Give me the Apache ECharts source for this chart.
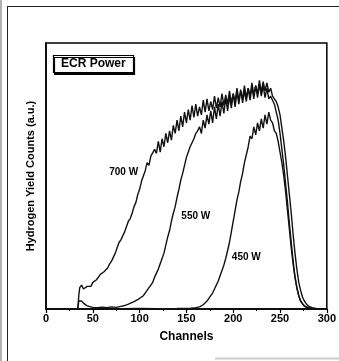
<!DOCTYPE html>
<html>
<head>
<meta charset="utf-8">
<script src="https://cdn.jsdelivr.net/npm/echarts@6/dist/echarts.min.js"></script>
<style>
  html, body { margin: 0; padding: 0; background: #fff; }
  #chart { width: 339px; height: 361px; }
</style>
</head>
<body>
<div id="chart"></div>
<script>
// Channel / yield values (arbitrary units, 0-100)
const ch700 = [30, 34, 35, 36, 38, 40, 42, 44, 46, 48, 50, 52, 54, 56, 58, 60, 62, 64, 66, 68, 70, 72, 74, 76, 78, 80, 82, 84, 86, 88, 90, 92, 94, 96, 98, 100, 102, 104, 106, 108, 110, 112, 114, 116, 118, 120, 122, 124, 126, 128, 130, 132, 134, 136, 138, 140, 142, 144, 146, 148, 150, 152, 154, 156, 158, 160, 162, 164, 166, 168, 170, 172, 174, 176, 178, 180, 182, 184, 186, 188, 190, 192, 194, 196, 198, 200, 202, 204, 206, 208, 210, 212, 214, 216, 218, 220, 222, 224, 226, 228, 230, 232, 234, 236, 238, 240, 242, 244, 246, 248, 250, 252, 254, 256, 258, 260, 262, 264, 266, 268, 270, 272, 274, 276, 278, 280, 284, 290, 296];
const y700 = [0, 0, 5, 8, 9, 7.5, 8, 8.5, 9, 8.5, 10, 10.5, 11, 12, 13, 13.5, 14, 14.5, 15.5, 17, 18, 19.5, 21, 23, 25, 26, 27.5, 29, 31, 33, 34, 36, 38.5, 40, 43, 45, 48, 47.5, 52, 55, 54, 57.5, 57, 60, 58.5,
  63, 59, 64, 61, 66, 62.5, 67, 63.5, 69, 66, 71, 67, 72.5, 68.5, 74, 70, 75, 71, 76.5, 72, 77, 72.5, 76, 73, 78.5, 74, 79, 74.5, 78, 75, 80, 75.5, 79.5, 76, 81, 76.5, 80.5, 77, 82, 77.5, 81, 78, 83, 78.5, 82, 79, 84, 79.5, 83, 80, 85, 80.5, 84, 81, 86, 81.5, 85.5, 82, 85, 81.5, 83,
  80, 79, 78, 76, 73, 68, 63, 57, 50, 43, 36, 28, 21, 15, 10, 7, 4.5, 3, 2, 1.2, 0.5, 0.1, 0];

const ch550 = [30, 34, 35, 36, 38, 40, 42, 44, 46, 50, 55, 60, 65, 70, 75, 80, 84, 88, 90, 94, 98, 100, 104, 106, 108, 110, 112, 114, 116, 118, 120, 122, 124, 126, 128, 130, 132, 134, 136, 138, 140, 142, 144, 146, 148, 150, 152, 154, 156, 158, 160, 162, 164, 166, 168, 170, 172, 174, 176, 178, 180, 182, 184, 186, 188, 190, 192, 194, 196, 198, 200, 202, 204, 206, 208, 210, 212, 214, 216, 218, 220, 222, 224, 226, 228, 230, 232, 234, 236, 238, 240, 242, 244, 246, 248, 250, 252, 254, 256, 258, 260, 262, 264, 266, 268, 270, 272, 274, 276, 280, 286, 292];
const y550 = [0, 0, 3, 3.5, 3, 2.2, 1.6, 1.2, 0.9, 0.6, 0.5, 0.7, 0.5, 0.8, 0.6, 1, 1.3, 1.8, 2.2, 2.8, 3.5, 4, 5, 5.5, 7, 8, 9, 10, 12, 13.5, 15, 17, 19, 21, 24, 27, 29.5, 33, 36, 38.5, 42, 45, 48.5, 51, 54, 57, 59, 61, 62.5, 64, 66, 67, 68.5,
  66, 71, 68, 73, 69.5, 74.5, 70, 76, 71.5, 77, 72.5, 78, 73.5, 79.5, 74.5, 80, 75.5, 81, 76, 81.5, 77, 82.5, 77.5, 82, 78, 83, 78.5, 83.5, 79, 84, 79.5, 84.5, 80, 84, 79.5, 83, 79, 80,
  78.5, 77, 74, 71, 66, 60, 54, 47, 40, 32, 25, 18, 12, 8, 5, 3, 2, 1.2, 0.5, 0.1, 0];

const ch450 = [30, 50, 60, 80, 100, 120, 140, 155, 160, 164, 166, 168, 170, 172, 174, 176, 178, 180, 182, 184, 186, 188, 190, 192, 194, 196, 198, 200, 202, 204, 206, 208, 210, 212, 214, 216, 218, 220, 222, 224, 226, 228, 230, 232, 234, 236, 238, 240, 242, 244, 246, 248, 250, 252, 254, 256, 258, 260, 262, 264, 266, 268, 270, 272, 274, 276, 280, 286, 292];
const y450 = [0, 0, 0.2, 0.1, 0.2, 0.1, 0.2, 0.3, 0.5, 0.8, 1.2, 1.6, 2.2, 3, 4, 5, 6, 7.5, 9, 10.5, 12.5, 14.5, 16.5, 19, 22, 25, 29, 33, 37, 41, 44, 48, 51, 55, 58,
  61, 65, 64, 68.5, 65.5, 70, 67, 71.5, 68, 73, 69.5, 74, 71, 70,
  67, 66, 63, 59, 55, 50, 44, 37, 30, 23, 17, 12, 8, 5, 3, 2, 1, 0.4, 0.1, 0];

const xTicks = [0, 50, 100, 150, 200, 250, 300];

// curve labels: [text, channel, yield]
const curveLabels = [
  ['700 W', 83, 51.5],
  ['550 W', 160, 35],
  ['450 W', 214, 19.5]
];

const font = '"Liberation Sans", Arial, sans-serif';

function pairs(xs, ys) {
  return xs.map((x, i) => [x, ys[i]]);
}

function lineSeries(name, xs, ys, withLabels) {
  const s = {
    name: name,
    type: 'line',
    data: pairs(xs, ys),
    showSymbol: false,
    symbol: 'none',
    animation: false,
    lineStyle: { color: '#111', width: 1.4 },
    z: 3
  };
  if (withLabels) {
    s.markPoint = {
      symbol: 'circle',
      symbolSize: 0,
      silent: true,
      label: {
        show: true,
        position: 'inside',
        formatter: p => p.name,
        color: '#000',
        fontFamily: font,
        fontWeight: 'bold',
        fontSize: 10
      },
      data: curveLabels.map(l => ({ name: l[0], coord: [l[1], l[2]] }))
    };
  }
  return s;
}

const chart = echarts.init(document.getElementById('chart'), null, { renderer: 'canvas' });

chart.setOption({
  backgroundColor: '#fff',
  animation: false,
  title: {
    text: 'ECR Power',
    left: 53,
    top: 55,
    padding: [3, 8, 3, 8],
    borderWidth: 1.2,
    borderColor: '#000',
    backgroundColor: '#fff',
    shadowColor: '#000',
    shadowOffsetX: 1,
    shadowOffsetY: 2,
    shadowBlur: 0,
    textStyle: { fontFamily: font, fontWeight: 'bold', fontSize: 12, color: '#000' }
  },
  grid: {
    left: 46,
    right: 10,
    top: 43,
    bottom: 52,
    show: true,
    borderColor: '#000',
    borderWidth: 1.5
  },
  xAxis: {
    type: 'value',
    min: 0,
    max: 300,
    interval: 50,
    name: 'Channels',
    nameLocation: 'middle',
    nameGap: 22,
    nameTextStyle: { fontFamily: font, fontWeight: 'bold', fontSize: 12, color: '#000' },
    axisLine: { show: true, lineStyle: { color: '#000', width: 1.5 } },
    axisTick: { show: true, length: 4, lineStyle: { color: '#000', width: 1.2 } },
    minorTick: { show: true, splitNumber: 2, length: 2, lineStyle: { color: '#000', width: 1 } },
    axisLabel: {
      margin: 4,
      fontFamily: font,
      fontWeight: 'bold',
      fontSize: 11,
      color: '#000',
      formatter: v => (xTicks.indexOf(v) >= 0 ? String(v) : '')
    },
    splitLine: { show: false }
  },
  yAxis: {
    type: 'value',
    min: 0,
    max: 100,
    name: 'Hydrogen Yield Counts (a.u.)',
    nameLocation: 'middle',
    nameGap: 10,
    nameTextStyle: { fontFamily: font, fontWeight: 'bold', fontSize: 11, color: '#000' },
    axisLine: { show: true, lineStyle: { color: '#000', width: 1.5 } },
    axisTick: { show: false },
    axisLabel: { show: false },
    splitLine: { show: false }
  },
  series: [
    lineSeries('700 W', ch700, y700, true),
    lineSeries('550 W', ch550, y550, false),
    lineSeries('450 W', ch450, y450, false)
  ],
  graphic: [
    { type: 'line', shape: { x1: 1, y1: 0, x2: 1, y2: 361 }, style: { stroke: '#666', lineWidth: 1 } },
    { type: 'line', shape: { x1: 7.5, y1: 6, x2: 7.5, y2: 361 }, style: { stroke: '#222', lineWidth: 1 } },
    { type: 'line', shape: { x1: 7.5, y1: 6.5, x2: 339, y2: 6.5 }, style: { stroke: '#222', lineWidth: 1 } },
    { type: 'line', shape: { x1: 215, y1: 358.5, x2: 339, y2: 358.5 }, style: { stroke: '#ccc', lineWidth: 2 } }
  ]
});

window.addEventListener('resize', () => chart.resize());
</script>
</body>
</html>
